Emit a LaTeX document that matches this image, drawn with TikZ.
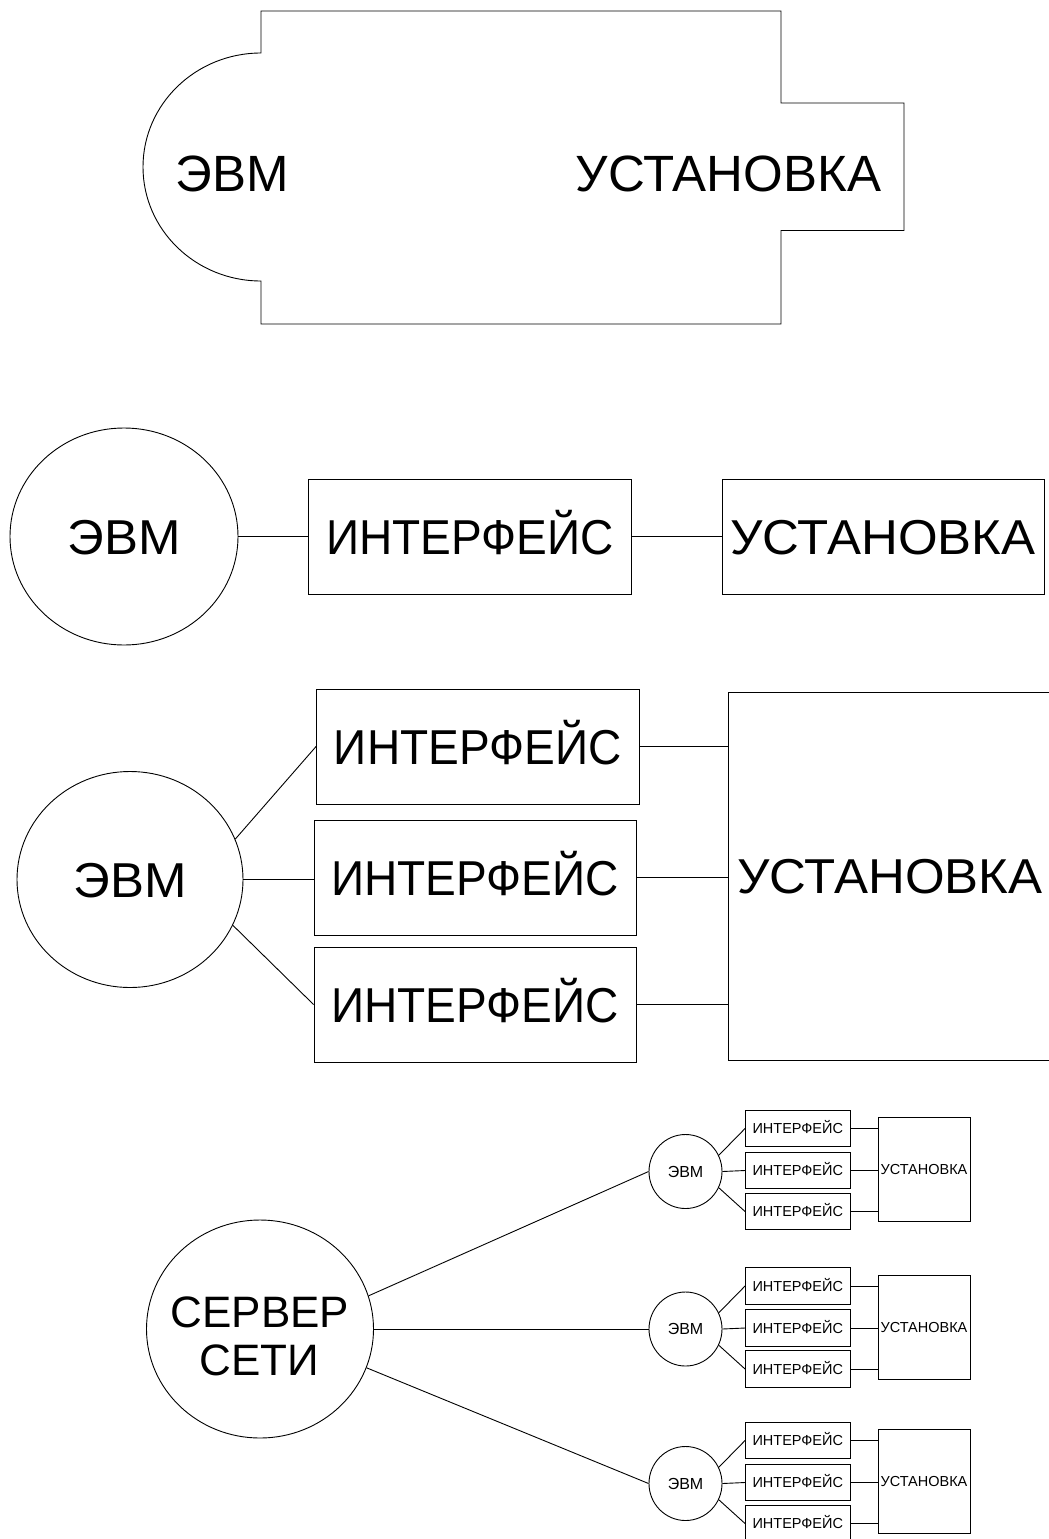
\documentclass[tikz,border=0pt]{standalone}
\usepackage{fontspec}
\setmainfont{Liberation Sans}
\newfontfamily\fnarrow[FakeStretch=0.94]{Liberation Sans}
\newfontfamily\fwide[FakeStretch=1.04]{Liberation Sans}
\usetikzlibrary{shapes.geometric}
\tikzset{
  ln/.style={line width=0.9pt},
  box/.style={draw, line width=0.9pt, rectangle, inner sep=0pt, text depth=0pt},
  oval/.style={draw, line width=0.9pt, ellipse, inner sep=0pt, text depth=0pt},
  fA/.style={font=\fontsize{51}{58}\selectfont, text height=37pt, text depth=0pt, inner sep=0pt},
  fB/.style={font=\fwide\fontsize{49}{56}\selectfont, text height=35pt},
  fBn/.style={font=\fnarrow\fontsize{49}{56}\selectfont, text height=35pt},
  fC/.style={font=\fontsize{44}{50}\selectfont, text height=32pt, text depth=0pt, inner sep=0pt},
  fS/.style={font=\fontsize{14.5}{17}\selectfont, text height=10.4pt},
  fE/.style={font=\fontsize{16}{18}\selectfont, text height=11.5pt},
  sbox/.style={box, fS, minimum width=104.5pt, minimum height=36.5pt},
  sinst/.style={box, fS, minimum width=92pt, minimum height=104pt},
  sevm/.style={oval, fE, minimum width=73pt, minimum height=74pt},
}
\begin{document}
\begin{tikzpicture}[x=1pt,y=-1pt]
\useasboundingbox (0,0) rectangle (1049,1539);
% ---------- section 1: combined outline
\draw[ln] (261,11) -- (781,11) -- (781,103) -- (904,103) -- (904,230.5) -- (781,230.5)
  -- (781,324) -- (261,324) -- (261,281)
  arc[start angle=90, end angle=270, x radius=118, y radius=114] -- cycle;
\node[fA, anchor=base] (t1a) at (232.5,191) {ЭВМ};
\node[fA, anchor=base] (t1b) at (728.5,191) {УСТАНОВКА};
% ---------- section 2
\node[oval, fB, minimum width=228pt, minimum height=217pt] (e2) at (124,536.5) {ЭВМ};
\node[box, fBn, minimum width=323pt, minimum height=115pt] (i2) at (470,536.5) {ИНТЕРФЕЙС};
\node[box, fB, minimum width=322pt, minimum height=115pt] (u2) at (883,536.5) {УСТАНОВКА};
\draw[ln] (e2.east) -- (i2.west);
\draw[ln] (i2.east) -- (u2.west);
% ---------- section 3
\node[oval, fB, minimum width=226pt, minimum height=216pt] (e3) at (130,879.5) {ЭВМ};
\node[box, fBn, minimum width=322.5pt, minimum height=115pt] (i31) at (477.75,746.5) {ИНТЕРФЕЙС};
\node[box, fBn, minimum width=322pt, minimum height=115pt] (i32) at (475,877.5) {ИНТЕРФЕЙС};
\node[box, fBn, minimum width=322pt, minimum height=115pt] (i33) at (475,1004.5) {ИНТЕРФЕЙС};
\node[box, fB, minimum width=324pt, minimum height=368pt] (u3) at (890,876) {УСТАНОВКА};
\draw[ln] (e3.21) -- (i31.west);
\draw[ln] (e3.east) -- (e3.east -| i32.west);
\draw[ln] (e3.-24) -- (i33.west);
\draw[ln] (i31.east) -- (i31.east -| u3.west);
\draw[ln] (i32.east) -- (i32.east -| u3.west);
\draw[ln] (i33.east) -- (i33.east -| u3.west);
% ---------- section 4
\node[oval, minimum width=227pt, minimum height=218pt] (srv) at (260,1329) {};
\node[fC, anchor=base] (srvA) at (260,1327) {СЕРВЕР};
\node[fC, anchor=base] (srvB) at (259.5,1375) {СЕТИ};
\foreach \k/\c in {1/1171.5, 2/1329, 3/1483.5} {
  \node[sevm] (e4\k) at (685.5,\c) {ЭВМ};
  \node[sbox] (b4\k a) at (797.75,\c-43) {ИНТЕРФЕЙС};
  \node[sbox] (b4\k b) at (797.75,\c-1) {ИНТЕРФЕЙС};
  \node[sbox] (b4\k c) at (797.75,\c+40) {ИНТЕРФЕЙС};
  \node[sinst] (u4\k) at (924,\c-2) {УСТАНОВКА};
  \draw[ln] (e4\k.26) -- (b4\k a.west);
  \draw[ln] (e4\k.east) -- (b4\k b.west);
  \draw[ln] (e4\k.-26) -- (b4\k c.west);
  \draw[ln] (b4\k a.east) -- (b4\k a.east -| u4\k.west);
  \draw[ln] (b4\k b.east) -- (b4\k b.east -| u4\k.west);
  \draw[ln] (b4\k c.east) -- (b4\k c.east -| u4\k.west);
}
\draw[ln] (srv.17) -- (e41.west);
\draw[ln] (srv.east) -- (e42.west);
\draw[ln] (srv.-20) -- (e43.west);
\end{tikzpicture}
\end{document}
